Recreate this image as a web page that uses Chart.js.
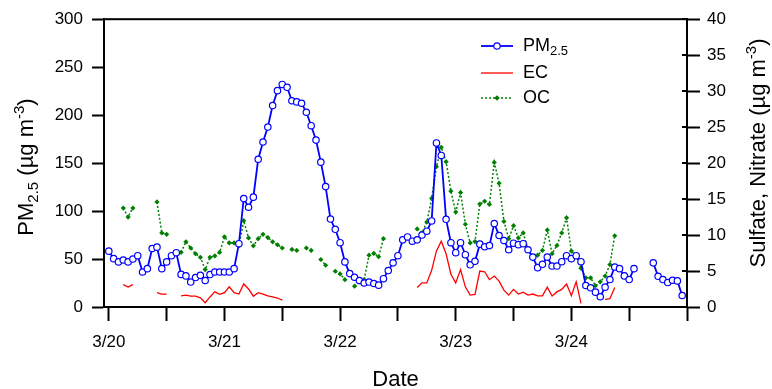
<!DOCTYPE html>
<html>
<head>
<meta charset="utf-8">
<script src="https://cdn.jsdelivr.net/npm/chart.js@4.4.0/dist/chart.umd.min.js"></script>
<style>
  html, body { margin: 0; padding: 0; background: #fff; }
  #wrap { width: 772px; height: 389px; }
</style>
</head>
<body>
<div id="wrap"><canvas id="pmChart" width="772" height="389"></canvas></div>
<script>
// hourly samples, hour 0 = 3/20 00:00
var hours = Array.from({ length: 120 }, function (_, i) { return i; });
var dayLabels = ['3/20', '3/21', '3/22', '3/23', '3/24'];
var xTicks = [0, 12, 24, 36, 48, 60, 72, 84, 96, 108, 120];

// PM2.5 (left axis)
var pm25 = [
  58.2, 50.4, 47, 49, 47, 50, 53.5, 36.5, 40, 61, 62.4, 40,
  47, 53.5, 56.6, 34, 32.4, 26, 30.7, 33, 27.6, 33.8, 36.5, 36.5,
  36.5, 36.5, 40, 66, 113, 104, 114.5, 154, 172, 187.6, 210, 225.5,
  232, 229, 215, 213.8, 212.4, 203, 189, 174, 151, 125.5, 91.7, 81,
  67, 47, 34.8, 31, 27.6, 25, 26, 24.5, 22.8, 29.5, 38, 46,
  53.5, 70, 73, 68.6, 70, 75, 79, 89.7, 171, 158, 91.4, 67,
  56.6, 67, 54.5, 44, 47.6, 65.5, 62.8, 64, 87, 74.5, 69.3, 59.7,
  66.5, 65, 66, 59.7, 52, 41, 44.5, 52, 42.7, 42.7, 47.2, 53.5,
  50.4, 53.5, 47.2, 22.4, 20, 15.5, 10.7, 20.7, 28.6, 41.7, 40, 32.4,
  28.6, 40, null, null, null, 46, 32, 28.6, 25.5, 27.9, 27.2, 12
];

// EC (right axis)
var ec = [
  null, null, null, 3.1, 2.76, 3.1, null, null, null, null, 2.0, 1.8,
  1.8, null, null, 1.56, 1.65, 1.52, 1.5, 1.28, 0.6, 1.4, 2.1, 1.75,
  2.0, 2.8, 2.0, 1.8, 3.2, 2.5, 1.5, 2.0, 1.8, 1.55, 1.4, 1.25,
  0.95, null, null, null, null, null, null, null, null, null, null, null,
  null, null, null, null, null, null, null, null, null, null, null, null,
  null, null, null, null, 2.7, 3.35, 3.35, 5.1, 7.8, 9.15, 7.4, 4.55,
  3.35, 5.2, 2.8, 1.65, 1.75, 5.0, 4.9, 3.8, 4.3, 3.6, 2.35, 1.65,
  2.45, 1.8, 2.07, 1.65, 1.8, 1.56, 1.56, 2.75, 1.52, 2.1, 2.45, 3.2,
  1.56, 3.5, 0.5, null, null, null, null, 1.06, 1.15, 2.7, null, null,
  null, null, null, null, null, null, null, null, null, null, null, null
];

// OC (right axis)
var oc = [
  null, null, null, 13.75, 12.5, 13.75, null, null, null, null, 14.6, 10.3,
  10.1, null, null, 7.6, 9.06, 8.2, 7.4, 6.9, 5.2, 6.9, 7.1, 7.6,
  9.75, 8.9, 8.9, 8.5, 12, 9.6, 8.5, 9.5, 10.1, 9.65, 9.06, 8.65,
  8.2, null, 8.0, 7.86, null, 8.2, 7.86, null, 6.6, 5.8, null, 4.97,
  4.6, 3.8, null, 2.9, 3.5, 3.8, 7.2, 7.45, 7.0, 9.5, null, null,
  null, null, null, null, 10.85, 10.3, 11.8, 15.1, 19.5, 22.2, 20.2, 16.1,
  13.2, 15.9, 11.5, 8.9, 9.1, 14.3, 14.7, 14.25, 20.1, 17.2, 11.9, 9.5,
  11.3, 9.6, 10.3, 8.05, 6.7, 7.2, 7.86, 10.7, 7.4, 8.55, 10.3, 12.4,
  7.77, 7.1, 5.4, 4.05, 4.05, 2.95, 3.5, 4.3, 5.9, 9.9, null, null,
  null, null, null, null, null, null, null, null, null, null, null, null
];

var FONT = '"Liberation Sans", Arial, sans-serif';
var BLUE = '#0000ff', RED = '#ff0000', GREEN = '#008000';

// texte avec indices / exposants : [texte, taille, decalage]
function richWidth(ctx, parts) {
  var w = 0;
  parts.forEach(function (p) {
    ctx.font = p[1] + 'px ' + FONT;
    w += ctx.measureText(p[0]).width;
  });
  return w;
}
function drawRich(ctx, parts, x, y) {
  parts.forEach(function (p) {
    ctx.font = p[1] + 'px ' + FONT;
    ctx.fillText(p[0], x, y + p[2]);
    x += ctx.measureText(p[0]).width;
  });
}

var decorPlugin = {
  id: 'decor',
  afterDatasetsDraw: function (chart) {
    var ctx = chart.ctx;
    var a = chart.chartArea;
    ctx.save();
    // cadre
    ctx.strokeStyle = '#000';
    ctx.lineWidth = 2;
    ctx.strokeRect(a.left, a.top, a.right - a.left, a.bottom - a.top);

    // petits traits vers l'intérieur sur l'axe de droite
    var y2 = chart.scales.y2;
    y2.ticks.forEach(function (t) {
      var yy = Math.round(y2.getPixelForValue(t.value));
      ctx.beginPath();
      ctx.moveTo(a.right - 5, yy);
      ctx.lineTo(a.right, yy);
      ctx.stroke();
    });

    // titres des axes
    ctx.fillStyle = '#000';
    ctx.textBaseline = 'alphabetic';
    var leftTitle = [['PM', 22, 0], ['2.5', 15, 5], [' (\u00b5g m', 22, 0], ['-3', 15, -9], [')', 22, 0]];
    var rightTitle = [['Sulfate, Nitrate (\u00b5g m', 22, 0], ['-3', 15, -9], [')', 22, 0]];

    ctx.save();
    ctx.translate(33, 167);
    ctx.rotate(-Math.PI / 2);
    drawRich(ctx, leftTitle, -richWidth(ctx, leftTitle) / 2, 0);
    ctx.restore();

    ctx.save();
    ctx.translate(765, 153);
    ctx.rotate(-Math.PI / 2);
    drawRich(ctx, rightTitle, -richWidth(ctx, rightTitle) / 2, 0);
    ctx.restore();

    ctx.font = '22px ' + FONT;
    ctx.textAlign = 'center';
    ctx.fillText('Date', (a.left + a.right) / 2, 386);
    ctx.textAlign = 'left';

    // légende
    var lx0 = 481, lx1 = 513, tx = 523;
    var rows = [46, 73, 98];
    ctx.lineWidth = 1.8;
    ctx.strokeStyle = BLUE;
    ctx.beginPath(); ctx.moveTo(lx0, rows[0]); ctx.lineTo(lx1, rows[0]); ctx.stroke();
    ctx.fillStyle = '#fff';
    ctx.lineWidth = 1.2;
    ctx.beginPath(); ctx.arc(497, rows[0], 3.2, 0, Math.PI * 2); ctx.fill(); ctx.stroke();

    ctx.strokeStyle = RED;
    ctx.lineWidth = 1.3;
    ctx.beginPath(); ctx.moveTo(lx0, rows[1]); ctx.lineTo(lx1, rows[1]); ctx.stroke();

    ctx.strokeStyle = GREEN;
    ctx.lineWidth = 1.5;
    ctx.setLineDash([2, 2]);
    ctx.beginPath(); ctx.moveTo(lx0, rows[2]); ctx.lineTo(lx1, rows[2]); ctx.stroke();
    ctx.setLineDash([]);
    ctx.fillStyle = GREEN;
    ctx.beginPath();
    ctx.moveTo(497, rows[2] - 2.8); ctx.lineTo(499.8, rows[2]);
    ctx.lineTo(497, rows[2] + 2.8); ctx.lineTo(494.2, rows[2]);
    ctx.closePath(); ctx.fill();

    ctx.fillStyle = '#000';
    ctx.textBaseline = 'middle';
    drawRich(ctx, [['PM', 18, 0], ['2.5', 13, 5]], tx, rows[0]);
    drawRich(ctx, [['EC', 18, 0]], tx, rows[1]);
    drawRich(ctx, [['OC', 18, 0]], tx, rows[2]);
    ctx.restore();
  }
};

var ctx = document.getElementById('pmChart').getContext('2d');

var myChart = new Chart(ctx, {
  type: 'line',
  data: {
    labels: hours,
    datasets: [
      {
        label: 'PM2.5',
        data: pm25,
        yAxisID: 'y',
        borderColor: BLUE,
        borderWidth: 1.8,
        pointRadius: 3.2,
        pointBorderWidth: 1.2,
        pointBackgroundColor: '#fff',
        pointBorderColor: BLUE,
        tension: 0
      },
      {
        label: 'EC',
        data: ec,
        yAxisID: 'y2',
        borderColor: RED,
        borderWidth: 1.3,
        pointRadius: 0,
        tension: 0
      },
      {
        label: 'OC',
        data: oc,
        yAxisID: 'y2',
        borderColor: GREEN,
        borderWidth: 1.5,
        borderDash: [2, 2],
        pointStyle: 'rectRot',
        pointRadius: 2.6,
        pointBorderWidth: 0,
        pointBackgroundColor: GREEN,
        tension: 0
      }
    ]
  },
  options: {
    responsive: false,
    animation: false,
    devicePixelRatio: 1,
    layout: { padding: { top: 17, left: 0, right: 0, bottom: 0 } },
    plugins: {
      legend: { display: false },
      tooltip: { enabled: false }
    },
    scales: {
      x: {
        type: 'linear',
        min: -1,
        max: 120,
        afterBuildTicks: function (s) {
          s.ticks = xTicks.map(function (v) { return { value: v }; });
        },
        afterFit: function (s) { s.height = 82; },
        ticks: {
          autoSkip: false,
          maxRotation: 0,
          padding: 11,
          color: '#000',
          font: { family: FONT, size: 17 },
          callback: function (v) {
            return (v % 24 === 0 && dayLabels[v / 24]) ? dayLabels[v / 24] : '';
          }
        },
        grid: { drawOnChartArea: false, tickLength: 14, tickWidth: 2, tickColor: '#000' },
        border: { color: '#000', width: 2 }
      },
      y: {
        position: 'left',
        min: 0,
        max: 300,
        afterFit: function (s) { s.width = 104; },
        ticks: { stepSize: 50, padding: 9, color: '#000', font: { family: FONT, size: 17 } },
        grid: { drawOnChartArea: false, tickLength: 12, tickWidth: 2, tickColor: '#000' },
        border: { color: '#000', width: 2 }
      },
      y2: {
        position: 'right',
        min: 0,
        max: 40,
        afterFit: function (s) { s.width = 85; },
        ticks: { stepSize: 5, padding: 7, color: '#000', font: { family: FONT, size: 17 } },
        grid: { drawOnChartArea: false, tickLength: 13, tickWidth: 2, tickColor: '#000' },
        border: { color: '#000', width: 2 }
      }
    }
  },
  plugins: [decorPlugin]
});
</script>
</body>
</html>
